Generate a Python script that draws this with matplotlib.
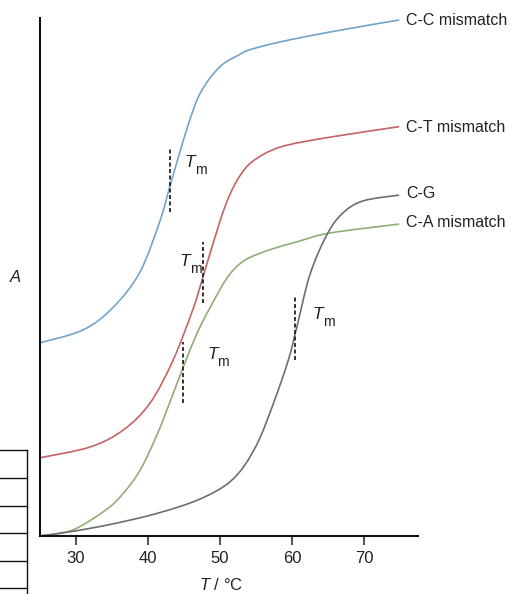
import matplotlib
matplotlib.use("Agg")
import matplotlib.pyplot as plt
from matplotlib.lines import Line2D
from matplotlib.path import Path
from matplotlib.patches import PathPatch

plt.rcParams['font.family'] = ['Liberation Sans', 'DejaVu Sans']
plt.rcParams['mathtext.fontset'] = 'custom'
plt.rcParams['mathtext.rm'] = 'Liberation Sans'
plt.rcParams['mathtext.it'] = 'Liberation Sans:italic'

# ---- data ----
cc_T = [25.0, 31.0, 35.2, 38.9, 41.7, 43.1, 45.5, 47.3, 50.0, 52.8, 54.2, 58.4, 65.3, 74.8]
cc_A = [37.3, 39.8, 44.2, 51.0, 61.0, 67.8, 79.0, 85.6, 90.6, 93.0, 93.9, 95.4, 97.3, 99.6]

ct_T = [25.0, 32.0, 36.6, 40.3, 43.5, 46.3, 47.7, 50.0, 51.4, 52.8, 54.6, 58.4, 65.3, 74.8]
ct_A = [15.1, 17.2, 20.5, 25.7, 34.0, 44.0, 50.3, 60.8, 66.0, 69.6, 72.4, 75.1, 77.0, 79.0]

ca_T = [25.0, 29.6, 34.3, 36.6, 38.9, 41.3, 43.5, 45.4, 47.2, 50.0, 51.4, 52.8, 54.2, 57.0, 60.7, 65.3, 74.8]
ca_A = [0.0, 1.2, 5.2, 8.3, 12.7, 19.7, 27.5, 34.4, 40.3, 47.6, 50.6, 52.6, 53.8, 55.3, 56.8, 58.5, 60.2]

cg_T = [25.0, 30.0, 35.0, 40.0, 44.0, 47.0, 49.5, 51.5, 53.5, 55.5, 57.5, 59.5, 60.7, 62.5, 64.9, 67.1, 69.9, 74.8]
cg_A = [0.0, 1.0, 2.3, 3.9, 5.5, 7.0, 8.7, 10.6, 13.8, 18.8, 25.9, 34.0, 40.5, 50.5, 58.3, 62.4, 64.7, 65.8]

series_labels = ["C-C mismatch", "C-T mismatch", "C-G", "C-A mismatch"]
label_A = [99.6, 78.8, 66.2, 60.6]

# Tm markers: temperature, A range (low, high), label anchor (T, A)
tm_T = [43.1, 47.7, 44.8, 60.4]
tm_lo = [62.5, 45.0, 25.7, 34.0]
tm_hi = [74.9, 56.8, 37.5, 46.3]
tm_label_T = [45.1, 44.4, 48.2, 62.9]
tm_label_A = [71.2, 52.2, 34.1, 41.8]

xticks = [30, 40, 50, 60, 70]


def smooth_path(xs, ys):
    """Smooth Bezier path through the read points (Catmull-Rom control points)."""
    pts = list(zip(xs, ys))
    n = len(pts)
    verts = [pts[0]]
    codes = [Path.MOVETO]
    for i in range(n - 1):
        p0 = pts[i - 1] if i > 0 else pts[i]
        p1 = pts[i]
        p2 = pts[i + 1]
        p3 = pts[i + 2] if i + 2 < n else pts[i + 1]
        c1 = (p1[0] + (p2[0] - p0[0]) / 6, p1[1] + (p2[1] - p0[1]) / 6)
        c2 = (p2[0] - (p3[0] - p1[0]) / 6, p2[1] - (p3[1] - p1[1]) / 6)
        verts += [c1, c2, p2]
        codes += [Path.CURVE4] * 3
    return Path(verts, codes)


# ---- figure ----
fig = plt.figure(figsize=(5.15, 5.94), dpi=100)
ax = fig.add_axes([40/515, 1-536/594, (418-40)/515, (536-18)/594])

c_blue = "#72a5c9"
c_red = "#c46464"
c_green = "#8fae76"
c_gray = "#6e6e6e"
lw = 1.2

for xs, ys, c in [(cc_T, cc_A, c_blue), (ct_T, ct_A, c_red),
                  (ca_T, ca_A, c_green), (cg_T, cg_A, c_gray)]:
    ax.add_patch(PathPatch(smooth_path(xs, ys), facecolor='none', edgecolor=c,
                           lw=lw, capstyle='round', joinstyle='round'))

for t, lo, hi in zip(tm_T, tm_lo, tm_hi):
    ax.plot([t, t], [lo, hi], color="#222222", lw=1.3, dashes=(2.2, 1.4))

for t, a in zip(tm_label_T, tm_label_A):
    ax.text(t, a, "T", fontsize=12.5, style='italic', ha='left', va='baseline', color="#222222")
    ax.annotate("m", xy=(t, a), xytext=(10.5, -7), textcoords='offset pixels',
                fontsize=10, ha='left', va='baseline', color="#222222")

for lab, a in zip(series_labels, label_A):
    ax.text(75.8, a, lab, fontsize=11.5, ha='left', va='center', color="#222222", clip_on=False)

ax.set_xlim(25, 77.5)
ax.set_ylim(0, 100)
ax.set_xticks(xticks)
ax.set_xticklabels([str(v) for v in xticks], fontsize=12, color="#222222")
ax.set_yticks([])
ax.tick_params(axis='x', direction='out', length=6.5, width=1.1, pad=4, color="#222222")
for s in ['top', 'right']:
    ax.spines[s].set_visible(False)
for s in ['left', 'bottom']:
    ax.spines[s].set_linewidth(1.5)
    ax.spines[s].set_color("#111111")

fig.text(15/515, 1-278/594, "A", fontsize=12, style='italic', ha='center', va='center', color="#222222")
fig.text(221/515, 1-585/594, r"$T$ / °C", fontsize=12, ha='center', va='center', color="#222222")

# cropped table fragment at left edge
tx = 27/515
fig.add_artist(Line2D([tx, tx], [1-450/594, 0], color="#111111", lw=1.0))
for py in [450, 478, 506, 533, 561, 588]:
    fig.add_artist(Line2D([0, tx], [1-py/594, 1-py/594], color="#111111", lw=1.0))

fig.savefig("out.png", dpi=100)
